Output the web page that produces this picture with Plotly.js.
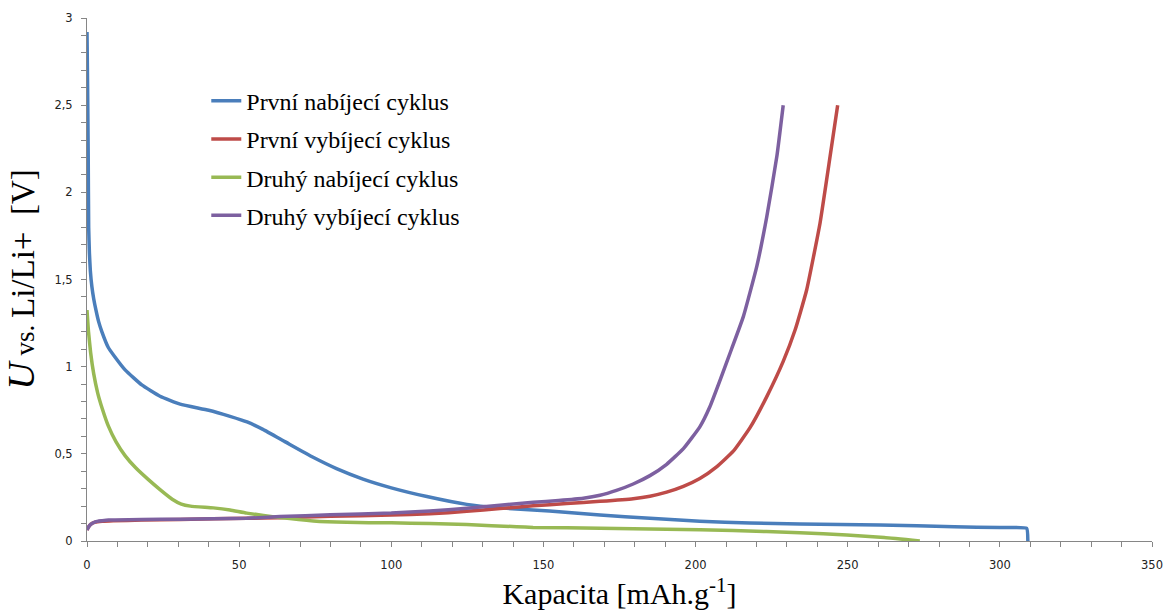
<!DOCTYPE html>
<html>
<head>
<meta charset="utf-8">
<script src="https://cdn.plot.ly/plotly-3.0.1.min.js"></script>
<style>html,body{margin:0;padding:0;background:#fff;}#chart{width:1171px;height:614px;}</style>
</head>
<body>
<div id="chart"></div>
<script>
// Series names
const seriesNames = ["První nabíjecí cyklus", "První vybíjecí cyklus", "Druhý nabíjecí cyklus", "Druhý vybíjecí cyklus"];

// První nabíjecí cyklus (blue)
const x1 = [0, 0.2, 0.4, 0.55, 0.8, 1.1, 1.6, 2.2, 3, 3.8, 4.9, 7, 9, 12.6, 18, 24, 30.6, 40, 47, 52.6, 57.8, 65, 74.3, 82, 90.7, 100, 111.7, 124.8, 135.7, 152, 168.6, 185, 201.4, 217.9, 234.3, 260.6, 285, 300, 308.8, 309.2];
const y1 = [2.92, 2.6, 2.2, 1.8, 1.65, 1.55, 1.46, 1.39, 1.32, 1.26, 1.2, 1.11, 1.06, 0.98, 0.895, 0.83, 0.785, 0.75, 0.715, 0.683, 0.64, 0.57, 0.48, 0.415, 0.355, 0.305, 0.255, 0.21, 0.19, 0.172, 0.149, 0.13, 0.113, 0.103, 0.098, 0.092, 0.082, 0.077, 0.073, 0];

// První vybíjecí cyklus (red)
const x2 = [0, 0.5, 1.2, 2.7, 5, 8.6, 18, 30.6, 52.5, 63.4, 80, 100, 112.7, 124.8, 135.7, 146.6, 157.6, 168.6, 179.5, 185, 190.5, 196, 201.4, 206.9, 212.4, 217.9, 223.4, 228.8, 232.7, 236.5, 240.9, 244.2, 246.7];
const y2 = [0.063, 0.08, 0.095, 0.108, 0.113, 0.116, 0.12, 0.124, 0.13, 0.134, 0.142, 0.149, 0.156, 0.17, 0.186, 0.202, 0.215, 0.228, 0.243, 0.257, 0.28, 0.313, 0.358, 0.425, 0.515, 0.65, 0.828, 1.03, 1.21, 1.44, 1.823, 2.205, 2.5];

// Druhý nabíjecí cyklus (green)
const x3 = [0, 0.5, 1.2, 2.2, 3.5, 5, 7, 9.5, 12.5, 16, 20, 24, 28, 31, 34, 41.5, 47, 52.5, 63.4, 74.4, 85.3, 100, 112.7, 124.8, 141.2, 146.6, 168.6, 190.5, 212.4, 234.3, 249.7, 262, 273.7];
const y3 = [1.325, 1.2, 1.08, 0.96, 0.85, 0.76, 0.66, 0.57, 0.49, 0.42, 0.355, 0.295, 0.24, 0.212, 0.2, 0.19, 0.178, 0.16, 0.134, 0.115, 0.107, 0.104, 0.1, 0.094, 0.082, 0.078, 0.073, 0.068, 0.06, 0.048, 0.034, 0.02, 0];

// Druhý vybíjecí cyklus (purple)
const x4 = [0, 0.5, 1.2, 2.7, 5, 7.1, 18, 30.6, 52.5, 63.4, 80, 100, 112.7, 124.8, 135.7, 146.7, 155, 163.1, 168.6, 174, 179.5, 185, 190.5, 196, 201.4, 204.7, 208, 211.8, 215.7, 220.1, 223.4, 226.7, 228.8];
const y4 = [0.063, 0.08, 0.095, 0.11, 0.116, 0.12, 0.124, 0.125, 0.13, 0.14, 0.15, 0.16, 0.172, 0.188, 0.205, 0.222, 0.232, 0.245, 0.262, 0.29, 0.327, 0.375, 0.44, 0.53, 0.655, 0.77, 0.92, 1.1, 1.287, 1.574, 1.86, 2.205, 2.5];

const colors = ["#4A7EBB", "#BE4B48", "#98B954", "#7D60A0"];
const xs = [x1, x2, x3, x4];
const ys = [y1, y2, y3, y4];

const traces = xs.map((x, i) => ({
  type: "scatter",
  mode: "lines",
  x: x,
  y: ys[i],
  name: seriesNames[i],
  legendgroup: "g" + i,
  line: {color: colors[i], width: 3.5, shape: "spline", smoothing: 0.4}
}));

const axisCommon = {
  showgrid: false,
  zeroline: false,
  showline: true,
  linecolor: "#868686",
  linewidth: 1,
  ticks: "outside",
  ticklen: 5,
  tickcolor: "#868686",
  tickfont: {family: "DejaVu Sans, Verdana, sans-serif", size: 11.5, color: "#222"}
};

const layout = {
  width: 1171,
  height: 614,
  paper_bgcolor: "#fff",
  plot_bgcolor: "#fff",
  separators: ", ",
  margin: {l: 87, r: 19, t: 18, b: 73},
  showlegend: true,
  legend: {
    x: 0.112, y: 0.884, xanchor: "left", yanchor: "top",
    bgcolor: "rgba(0,0,0,0)",
    font: {family: "Liberation Serif, Times New Roman, serif", size: 24, color: "#000"},
    traceorder: "grouped",
    tracegroupgap: 4
  },
  xaxis: Object.assign({}, axisCommon, {
    range: [0, 350],
    dtick: 50,
    tick0: 0,
    ticklabelstandoff: 8,
    minor: {dtick: 10, ticks: "outside", ticklen: 5, tickcolor: "#868686"},
    title: {text: "Kapacita [mAh.g<sup>-1</sup>]", font: {family: "Liberation Serif, Times New Roman, serif", size: 30, color: "#000"}, standoff: 12}
  }),
  yaxis: Object.assign({}, axisCommon, {
    range: [0, 3],
    dtick: 0.5,
    tick0: 0,
    ticklabelstandoff: 6,
    minor: {dtick: 0.1, ticks: "outside", ticklen: 5, tickcolor: "#868686"},
    title: {text: "<i><span style=\"font-size:38px\">U</span></i><span style=\"font-size:27px\"> vs. </span>Li/Li+&nbsp;&nbsp;[V]", font: {family: "Liberation Serif, Times New Roman, serif", size: 33, color: "#000"}, standoff: 12}
  })
};

Plotly.newPlot("chart", traces, layout, {displayModeBar: false, staticPlot: true});
</script>
</body>
</html>
